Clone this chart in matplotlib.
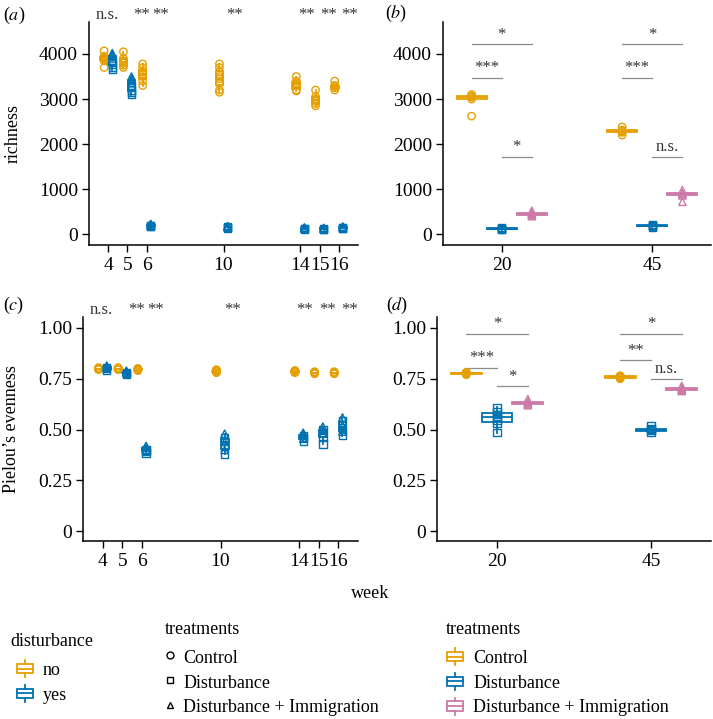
import matplotlib.pyplot as plt
from matplotlib.legend_handler import HandlerBase
from matplotlib.lines import Line2D
from matplotlib.patches import Rectangle
import matplotlib.transforms as mtransforms

plt.rcParams['font.family'] = ['Liberation Serif', 'DejaVu Serif']
plt.rcParams['mathtext.fontset'] = 'stix'

# ---------------------------------------------------------------------
# data
weeks = [4, 5, 6, 10, 14, 15, 16]
week_sig = ["n.s.", "**", "**", "**", "**", "**", "**"]

rich_control = [
    [4070, 3950, 3920, 3900, 3880, 3850, 3700],
    [4050, 3900, 3850, 3800, 3750, 3700],
    [3780, 3700, 3600, 3550, 3500, 3400, 3300],
    [3780, 3700, 3600, 3500, 3450, 3350, 3200, 3150],
    [3500, 3400, 3350, 3300, 3200, 3180],
    [3200, 3050, 3000, 2950, 2900, 2850],
    [3400, 3300, 3280, 3250, 3200],
]
rich_dist = [
    [3850, 3780, 3700, 3650],
    [3300, 3200, 3150, 3100],
    [180, 170, 200],
    [150, 140, 160],
    [120, 130, 110],
    [110, 120, 100],
    [140, 150, 130],
]
rich_imm = [
    [4020, 3980, 3950, 3900],
    [3500, 3450, 3400, 3350],
    [230, 210, 190],
    [170, 160, 180],
    [140, 130, 150],
    [130, 120, 140],
    [160, 170, 150],
]

even_control = [
    [0.795, 0.80, 0.80, 0.805, 0.80],
    [0.795, 0.80, 0.80, 0.805, 0.80],
    [0.79, 0.795, 0.80, 0.80, 0.795],
    [0.78, 0.785, 0.79, 0.795, 0.79],
    [0.78, 0.785, 0.79, 0.785, 0.79],
    [0.775, 0.78, 0.785, 0.78, 0.78],
    [0.775, 0.78, 0.785, 0.78, 0.78],
]
even_dist = [
    [0.79, 0.80, 0.805],
    [0.77, 0.775, 0.78],
    [0.385, 0.395, 0.40],
    [0.38, 0.42, 0.46],
    [0.44, 0.46, 0.47],
    [0.43, 0.46, 0.50],
    [0.47, 0.50, 0.545],
]
even_imm = [
    [0.80, 0.81, 0.815],
    [0.78, 0.785, 0.79],
    [0.40, 0.41, 0.42],
    [0.40, 0.44, 0.48],
    [0.455, 0.475, 0.485],
    [0.48, 0.50, 0.515],
    [0.49, 0.52, 0.56],
]

late_weeks = ["20", "45"]
late_rich_control = [[3100, 3060, 3040, 3000, 2620], [2200, 2260, 2290, 2310, 2380]]
late_rich_dist = [[100, 110, 120, 130, 150], [160, 180, 190, 200, 220]]
late_rich_imm = [[400, 430, 450, 470, 520], [720, 860, 890, 910, 980]]
late_even_control = [[0.77, 0.775, 0.777, 0.78, 0.782], [0.75, 0.755, 0.76, 0.762, 0.765]]
late_even_dist = [[0.485, 0.53, 0.545, 0.56, 0.575, 0.59, 0.61],
                  [0.485, 0.495, 0.50, 0.505, 0.52]]
late_even_imm = [[0.62, 0.625, 0.63, 0.635, 0.65], [0.69, 0.695, 0.70, 0.705, 0.715]]

# pairwise tests: (Control vs D+I, Control vs Dist, Dist vs D+I)
late_rich_sig = [["*", "***", "*"], ["*", "***", "n.s."]]
late_rich_sig_y = [[4220, 3470, 1720], [4220, 3470, 1720]]
late_even_sig = [["*", "***", "*"], ["*", "**", "n.s."]]
late_even_sig_y = [[0.972, 0.805, 0.715], [0.972, 0.84, 0.751]]

treatments = ["Control", "Disturbance", "Disturbance + Immigration"]

# ---------------------------------------------------------------------
ORANGE, BLUE, PINK = "#E69F00", "#0072B2", "#CC79A7"
FS = 13
TICK_FS = 14
LW = 1.3


def box(ax, vals, pos, width, color, marker_groups):
    ax.boxplot([vals], positions=[pos], widths=width, patch_artist=True,
               showfliers=False, showcaps=False, manage_ticks=False,
               boxprops=dict(facecolor="white", edgecolor=color, linewidth=LW),
               medianprops=dict(color=color, linewidth=LW),
               whiskerprops=dict(color=color, linewidth=LW))
    for m, pts in marker_groups:
        ax.scatter([pos] * len(pts), pts, marker=m, s=28, facecolors="none",
                   edgecolors=color, linewidths=1.0, zorder=3)


def style(ax):
    for s in ("top", "right"):
        ax.spines[s].set_visible(False)
    for s in ("left", "bottom"):
        ax.spines[s].set_linewidth(1.1)
    ax.tick_params(length=5, width=1.0, labelsize=TICK_FS, colors="black")
    ax.tick_params(axis="x", pad=4)
    ax.tick_params(axis="y", pad=3)


fig = plt.figure(figsize=(7.13, 7.19), dpi=100)
W, H = 713, 719


def axes_px(l, t, r, b):
    return fig.add_axes([l / W, 1 - b / H, (r - l) / W, (b - t) / H])


ax_a = axes_px(89, 22, 358, 245)
ax_b = axes_px(443, 22, 711, 245)
ax_c = axes_px(83, 317, 358, 541)
ax_d = axes_px(437, 317, 711, 541)

# ---- weekly panels (a) and (c) --------------------------------------
sig_dx = [-0.05, 0.75, 0.7, 0.6, 0.3, 0.45, 0.55]
for ax, ctrl, dist, imm in ((ax_a, rich_control, rich_dist, rich_imm),
                            (ax_c, even_control, even_dist, even_imm)):
    for i, wk in enumerate(weeks):
        box(ax, ctrl[i], wk - 0.21, 0.4, ORANGE, [("o", ctrl[i])])
        box(ax, dist[i] + imm[i], wk + 0.21, 0.4, BLUE,
            [("s", dist[i]), ("^", imm[i])])
    trans = mtransforms.blended_transform_factory(ax.transData, ax.transAxes)
    for wk, lab, dx in zip(weeks, week_sig, sig_dx):
        ax.text(wk + dx, 1.03, lab, transform=trans, ha="center", va="center",
                fontsize=12, color="#333333", clip_on=False)
    ax.set_xlim(3.0, 17.0)
    ax.set_xticks(weeks)
    ax.set_xticklabels([str(w) for w in weeks])
    style(ax)

ax_a.set_ylim(-240, 4710)
ax_a.set_yticks([0, 1000, 2000, 3000, 4000])
ax_c.set_ylim(-0.048, 1.054)
ax_c.set_yticks([0, 0.25, 0.5, 0.75, 1.0])
ax_c.set_yticklabels(["0", "0.25", "0.50", "0.75", "1.00"])

# ---- late panels (b) and (d) ----------------------------------------
for ax, ctrl, dist, imm, sig, sig_y in (
        (ax_b, late_rich_control, late_rich_dist, late_rich_imm, late_rich_sig, late_rich_sig_y),
        (ax_d, late_even_control, late_even_dist, late_even_imm, late_even_sig, late_even_sig_y)):
    for i in range(len(late_weeks)):
        x = i + 1
        box(ax, ctrl[i], x - 0.2, 0.2, ORANGE, [("o", ctrl[i])])
        box(ax, dist[i], x, 0.2, BLUE, [("s", dist[i])])
        box(ax, imm[i], x + 0.2, 0.2, PINK, [("^", imm[i])])
        pairs = [(x - 0.2, x + 0.2), (x - 0.2, x), (x, x + 0.2)]
        for (x0, x1), lab, yv in zip(pairs, sig[i], sig_y[i]):
            ax.plot([x0, x1], [yv, yv], color="#8c8c8c", lw=0.9)
            ax.annotate(lab, ((x0 + x1) / 2, yv), xytext=(0, 1),
                        textcoords="offset points", ha="center", va="bottom",
                        fontsize=12, color="#333333")
    ax.set_xlim(0.61, 2.39)
    ax.set_xticks([1, 2])
    ax.set_xticklabels(late_weeks)
    style(ax)

ax_b.set_ylim(-240, 4710)
ax_b.set_yticks([0, 1000, 2000, 3000, 4000])
ax_d.set_ylim(-0.048, 1.054)
ax_d.set_yticks([0, 0.25, 0.5, 0.75, 1.0])
ax_d.set_yticklabels(["0", "0.25", "0.50", "0.75", "1.00"])

# ---- texts ----------------------------------------------------------
for lab, x, y in (("a", 3, 15), ("b", 385, 13), ("c", 3, 305), ("d", 386, 305)):
    fig.text(x / W, 1 - y / H, r"($\it{%s}$)" % lab, fontsize=FS, va="center", ha="left")
fig.text(13.5 / W, 1 - 133.5 / H, "richness", rotation=90, fontsize=FS,
         ha="center", va="center")
fig.text(12 / W, 1 - 429 / H, "Pielou\u2019s evenness", rotation=90, fontsize=FS,
         ha="center", va="center")
fig.text(370 / W, 1 - 593 / H, "week", fontsize=FS, ha="center", va="center")


# ---- legends --------------------------------------------------------
class BoxKey(HandlerBase):
    def create_artists(self, legend, orig_handle, xdescent, ydescent,
                       width, height, fontsize, trans):
        c = orig_handle.get_color()
        x0, y0 = -xdescent, -ydescent
        cx = x0 + width / 2
        bw, bh = width * 0.85, height * 0.55
        by = y0 + (height - bh) / 2
        rect = Rectangle((cx - bw / 2, by), bw, bh, facecolor="white",
                         edgecolor=c, lw=LW, transform=trans)
        med = Line2D([cx - bw / 2, cx + bw / 2], [y0 + height / 2] * 2,
                     color=c, lw=LW, transform=trans)
        w1 = Line2D([cx, cx], [y0, by], color=c, lw=LW, transform=trans)
        w2 = Line2D([cx, cx], [by + bh, y0 + height], color=c, lw=LW, transform=trans)
        return [rect, med, w1, w2]


common = dict(loc="upper left", frameon=False, fontsize=FS, handleheight=1.1,
              borderpad=0, borderaxespad=0, labelspacing=0.33)

fig.text(10 / W, 1 - 642 / H, "disturbance", fontsize=FS, va="center", ha="left")
h1 = [Line2D([], [], color=ORANGE), Line2D([], [], color=BLUE)]
fig.legend(h1, ["no", "yes"], bbox_to_anchor=(16 / W, 1 - 660 / H),
           handler_map={Line2D: BoxKey()}, handlelength=1.0,
           handletextpad=0.5, **common)

fig.text(165 / W, 1 - 630 / H, "treatments", fontsize=FS, va="center", ha="left")
h2 = [Line2D([], [], marker=m, ls="", mfc="none", mec="black", mew=1.0, ms=5)
      for m in ("o", "s", "^")]
fig.legend(h2, treatments, bbox_to_anchor=(165 / W, 1 - 648 / H),
           handlelength=0.6, handletextpad=0.4, **common)

fig.text(446 / W, 1 - 630 / H, "treatments", fontsize=FS, va="center", ha="left")
h3 = [Line2D([], [], color=c) for c in (ORANGE, BLUE, PINK)]
fig.legend(h3, treatments, bbox_to_anchor=(446 / W, 1 - 648 / H),
           handler_map={Line2D: BoxKey()}, handlelength=1.0,
           handletextpad=0.5, **common)

fig.savefig("out.png", dpi=100)
